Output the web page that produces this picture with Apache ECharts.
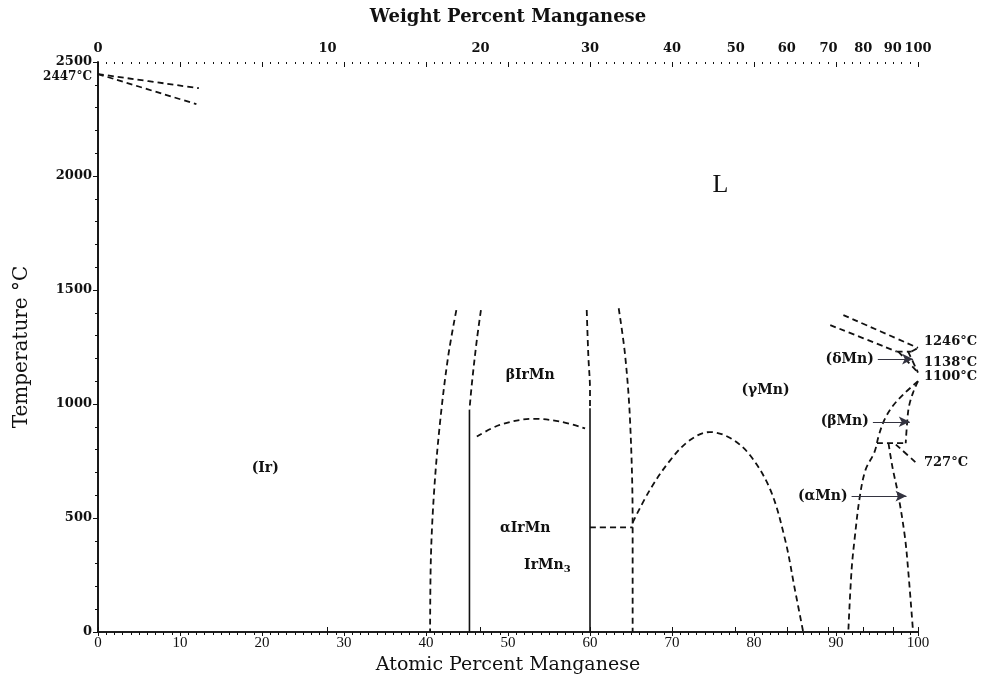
<!DOCTYPE html>
<html>
<head>
<meta charset="utf-8">
<title>Ir-Mn Phase Diagram</title>
<script src="https://cdn.jsdelivr.net/npm/echarts@6/dist/echarts.min.js"></script>
<style>
  html, body { margin: 0; padding: 0; background: #ffffff; }
  #chart { width: 983px; height: 684px; }
</style>
</head>
<body>
<div id="chart"></div>
<script>
// ---- Phase boundaries: [atomic % Mn, temperature °C] ----
const irLiquidus      = [[0, 2447], [12.3, 2385]];
const irSolidus       = [[0, 2447], [12.0, 2315]];
const irSolvus        = [[43.7, 1412], [42.7, 1208], [41.7, 915], [41.0, 623], [40.6, 330], [40.5, 0]];
const irMnLeftUpper   = [[46.7, 1412], [46.2, 1281], [45.6, 1091], [45.3, 974]];
const irMnLeftSolid   = [[45.3, 974], [45.3, 0]];
const irMnRightUpper  = [[59.6, 1412], [59.8, 1208], [60.0, 1061], [60.0, 981]];
const irMnRightSolid  = [[60.0, 981], [60.0, 0]];
const irMnOrdering    = [[46.2, 857], [49.0, 908], [53.1, 935], [56.4, 923], [59.4, 893]];
const irMn3LeftBound  = [[63.5, 1420], [64.3, 1208], [64.9, 915], [65.2, 477], [65.2, 0]];
const irMnEutectoid   = [[60.0, 459], [65.2, 459]];
const irMn3Dome       = [[65.2, 480], [67.3, 623], [69.8, 754], [72.2, 842], [74.6, 877], [77.1, 851],
                         [79.5, 776], [82.0, 623], [83.8, 404], [85.0, 184], [86.0, 0]];
const mnLiquidus      = [[90.9, 1390], [100, 1246]];
const mnSolidus       = [[89.3, 1346], [97.4, 1230]];
const deltaPeritectic = [[97.4, 1230], [99.2, 1230]];
const deltaSolidus    = [[99.2, 1230], [100, 1246]];
const deltaSolvus     = [[98.8, 1230], [100, 1138]];
const gammaDeltaBound = [[97.6, 1230], [100, 1138]];
const gammaBound      = [[100, 1100], [98.3, 1045], [96.9, 990], [95.9, 930], [95.2, 860], [94.7, 790],
                         [93.6, 711], [92.9, 593], [92.3, 418], [91.9, 272], [91.5, 0]];
const betaBound       = [[100, 1100], [99.4, 1050], [98.9, 990], [98.7, 930], [98.5, 828]];
const mnEutectoid     = [[95.0, 828], [98.6, 828]];
const betaAlphaBound  = [[97.3, 822], [100, 735]];
const alphaBound      = [[96.4, 828], [96.9, 720], [97.6, 600], [98.4, 418], [98.8, 272], [99.4, 0]];

// ---- Axis ticks ----
const weightTicks = [0, 10, 20, 30, 40, 50, 60, 70, 80, 90, 100];
const atomicTicks = [0, 10, 20, 30, 40, 50, 60, 70, 80, 90, 100];
const tempTicks   = [0, 500, 1000, 1500, 2000, 2500];

// ---- Annotations ----
const meltIr = { text: '2447°C', at: 0, t: 2447 };
const mnTransitions = [
  { text: '1246°C', t: 1246, dy: -6 },
  { text: '1138°C', t: 1138, dy: -10 },
  { text: '1100°C', t: 1100, dy: -5 },
  { text: '727°C',  t: 727,  dy: -4 }
];
const regionLabels = [
  { text: 'L',        at: 75.9, t: 1961, kind: 'big' },
  { text: 'βIrMn',    at: 52.7, t: 1127, kind: 'phase' },
  { text: 'αIrMn',    at: 52.1, t: 456,  kind: 'phase' },
  { text: 'IrMn3',    at: 54.8, t: 294,  kind: 'sub' },
  { text: '(γMn)',    at: 81.4, t: 1061, kind: 'phase' },
  { text: '(Ir)',     at: 20.4, t: 719,  kind: 'phase' }
];
const pointerLabels = [
  { text: '(δMn)', from: 95.1, to: 99.4, t: 1197 },
  { text: '(βMn)', from: 94.5, to: 99.0, t: 922 },
  { text: '(αMn)', from: 91.9, to: 98.6, t: 596 }
];

// weight % Mn -> atomic % Mn
const M_MN = 54.938, M_IR = 192.217;
function weightToAtomic(w) {
  const nMn = w / M_MN, nIr = (100 - w) / M_IR;
  return 100 * nMn / (nMn + nIr);
}
const weightTickPos = weightTicks.map(weightToAtomic);
function weightLabelFor(v) {
  let best = 0;
  for (let i = 1; i < weightTickPos.length; i++) {
    if (Math.abs(weightTickPos[i] - v) < Math.abs(weightTickPos[best] - v)) best = i;
  }
  return String(weightTicks[best]);
}

const INK = '#111111';
const SERIF = "'DejaVu Serif', 'Liberation Serif', serif";
const SERIF2 = "'Liberation Serif', 'DejaVu Serif', serif";
const dashed = { color: INK, width: 1.8, type: [6, 4] };
const solid  = { color: INK, width: 1.6, type: 'solid' };

function boundary(name, data, style) {
  return {
    name: name, type: 'line', data: data, xAxisIndex: 0, yAxisIndex: 0,
    symbol: 'none', showSymbol: false, smooth: 0.35, silent: true,
    lineStyle: style, z: 3
  };
}

const chart = echarts.init(document.getElementById('chart'), null, { renderer: 'canvas' });

const option = {
  backgroundColor: '#ffffff',
  animation: false,
  grid: { left: 98, right: 65, top: 62, bottom: 52 },
  xAxis: [
    {
      type: 'value', position: 'bottom', min: 0, max: 100, interval: 10,
      axisLine: { show: true, lineStyle: { color: INK, width: 1.6 } },
      axisTick: { show: true, length: 4, lineStyle: { color: INK } },
      minorTick: { show: true, splitNumber: 10, length: 3, lineStyle: { color: INK } },
      axisLabel: { color: INK, fontFamily: SERIF2, fontSize: 15, margin: 4,
                   customValues: atomicTicks, formatter: v => String(v) },
      splitLine: { show: false },
      name: 'Atomic Percent Manganese', nameLocation: 'middle', nameGap: 24,
      nameTextStyle: { color: INK, fontFamily: SERIF, fontSize: 19 }
    },
    {
      type: 'value', position: 'top', min: 0, max: 100,
      axisLine: { show: true, lineStyle: { color: INK, width: 1.6 } },
      axisTick: { show: true, length: 5, customValues: weightTickPos, lineStyle: { color: INK } },
      axisLabel: { customValues: weightTickPos, formatter: weightLabelFor,
                   color: INK, fontFamily: SERIF, fontWeight: 'bold', fontSize: 13, margin: 7 },
      splitLine: { show: false },
      name: 'Weight Percent Manganese', nameLocation: 'middle', nameGap: 36,
      nameTextStyle: { color: INK, fontFamily: SERIF, fontWeight: 'bold', fontSize: 18 }
    },
    {
      type: 'value', position: 'top', min: 0, max: 100, interval: 10,
      axisLine: { show: false },
      axisTick: { show: true, inside: true, length: 5, lineStyle: { color: INK } },
      minorTick: { show: true, splitNumber: 10, length: 2, lineStyle: { color: INK } },
      axisLabel: { show: false },
      splitLine: { show: false }
    }
  ],
  yAxis: [
    {
      type: 'value', position: 'left', min: 0, max: 2500, interval: 500,
      axisLine: { show: true, lineStyle: { color: INK, width: 1.6 } },
      axisTick: { show: true, length: 5, lineStyle: { color: INK } },
      minorTick: { show: true, splitNumber: 5, length: 3, lineStyle: { color: INK } },
      axisLabel: { color: INK, fontFamily: SERIF, fontWeight: 'bold', fontSize: 13, margin: 6,
                   customValues: tempTicks, formatter: v => String(v) },
      splitLine: { show: false },
      name: 'Temperature °C', nameLocation: 'middle', nameGap: 66, nameRotate: 90,
      nameTextStyle: { color: INK, fontFamily: SERIF, fontSize: 20 }
    },
    {
      type: 'value', position: 'right', min: 0, max: 2500, interval: 500,
      axisLine: { show: true, lineStyle: { color: INK, width: 1.6 } },
      axisTick: { show: true, inside: true, length: 5, lineStyle: { color: INK } },
      minorTick: { show: true, splitNumber: 5, length: 3, lineStyle: { color: INK } },
      axisLabel: { show: false },
      splitLine: { show: false }
    }
  ],
  series: [
    boundary('Ir liquidus', irLiquidus, dashed),
    boundary('Ir solidus', irSolidus, dashed),
    boundary('(Ir) solvus', irSolvus, dashed),
    boundary('IrMn left upper', irMnLeftUpper, dashed),
    boundary('IrMn left', irMnLeftSolid, solid),
    boundary('IrMn right upper', irMnRightUpper, dashed),
    boundary('IrMn right', irMnRightSolid, solid),
    boundary('IrMn ordering', irMnOrdering, dashed),
    boundary('IrMn3 left', irMn3LeftBound, dashed),
    boundary('IrMn eutectoid', irMnEutectoid, dashed),
    boundary('IrMn3 dome', irMn3Dome, dashed),
    boundary('Mn liquidus', mnLiquidus, dashed),
    boundary('Mn solidus', mnSolidus, dashed),
    boundary('δMn peritectic', deltaPeritectic, dashed),
    boundary('δMn solidus', deltaSolidus, dashed),
    boundary('δMn solvus', deltaSolvus, dashed),
    boundary('γMn/δMn', gammaDeltaBound, dashed),
    boundary('γMn boundary', gammaBound, dashed),
    boundary('βMn boundary', betaBound, dashed),
    boundary('Mn eutectoid', mnEutectoid, dashed),
    boundary('βMn/αMn', betaAlphaBound, dashed),
    boundary('αMn boundary', alphaBound, dashed),
    {
      name: 'region labels', type: 'scatter', symbolSize: 0, silent: true, z: 5,
      itemStyle: { opacity: 1 },
      data: regionLabels.map(r => ({ name: r.text, value: [r.at, r.t] })),
      label: {
        show: true, position: 'inside', color: INK, textBorderWidth: 0, opacity: 1,
        formatter: p => {
          const k = regionLabels[p.dataIndex].kind;
          if (k === 'big') return '{big|' + p.name + '}';
          if (k === 'sub') return '{ph|IrMn}{sub|3}';
          return '{ph|' + p.name + '}';
        },
        rich: {
          big: { fontFamily: SERIF2, fontSize: 26, color: INK },
          ph:  { fontFamily: SERIF, fontWeight: 'bold', fontSize: 14, color: INK },
          sub: { fontFamily: SERIF, fontWeight: 'bold', fontSize: 10, color: INK, verticalAlign: 'bottom', padding: [8, 0, 0, 0] }
        }
      }
    },
    {
      name: 'Ir melting point', type: 'scatter', symbolSize: 0, silent: true, z: 5,
      itemStyle: { opacity: 1 },
      data: [{ name: meltIr.text, value: [meltIr.at, meltIr.t] }],
      label: { show: true, position: 'left', distance: 6, offset: [0, 3], formatter: '{b}', color: INK,
               opacity: 1, fontFamily: SERIF, fontWeight: 'bold', fontSize: 12 }
    },
    {
      name: 'Mn transitions', type: 'scatter', symbolSize: 0, silent: true, z: 5,
      itemStyle: { opacity: 1 },
      data: mnTransitions.map(m => ({
        name: m.text, value: [100, m.t],
        label: { offset: [0, m.dy] }
      })),
      label: { show: true, position: 'right', distance: 6, formatter: '{b}', color: INK,
               opacity: 1, fontFamily: SERIF, fontWeight: 'bold', fontSize: 13 }
    },
    {
      name: 'pointers', type: 'line', data: [], silent: true, z: 6,
      markLine: {
        silent: true, animation: false,
        symbol: ['none', 'arrow'], symbolSize: [8, 11],
        lineStyle: { color: '#333340', width: 1, type: 'solid', opacity: 1 },
        label: { show: true, position: 'start', distance: 4, formatter: '{b}', color: INK,
                 fontFamily: SERIF, fontWeight: 'bold', fontSize: 14 },
        data: pointerLabels.map(a => [
          { name: a.text, coord: [a.from, a.t] },
          { coord: [a.to, a.t] }
        ])
      }
    }
  ]
};

chart.setOption(option);
</script>
</body>
</html>
